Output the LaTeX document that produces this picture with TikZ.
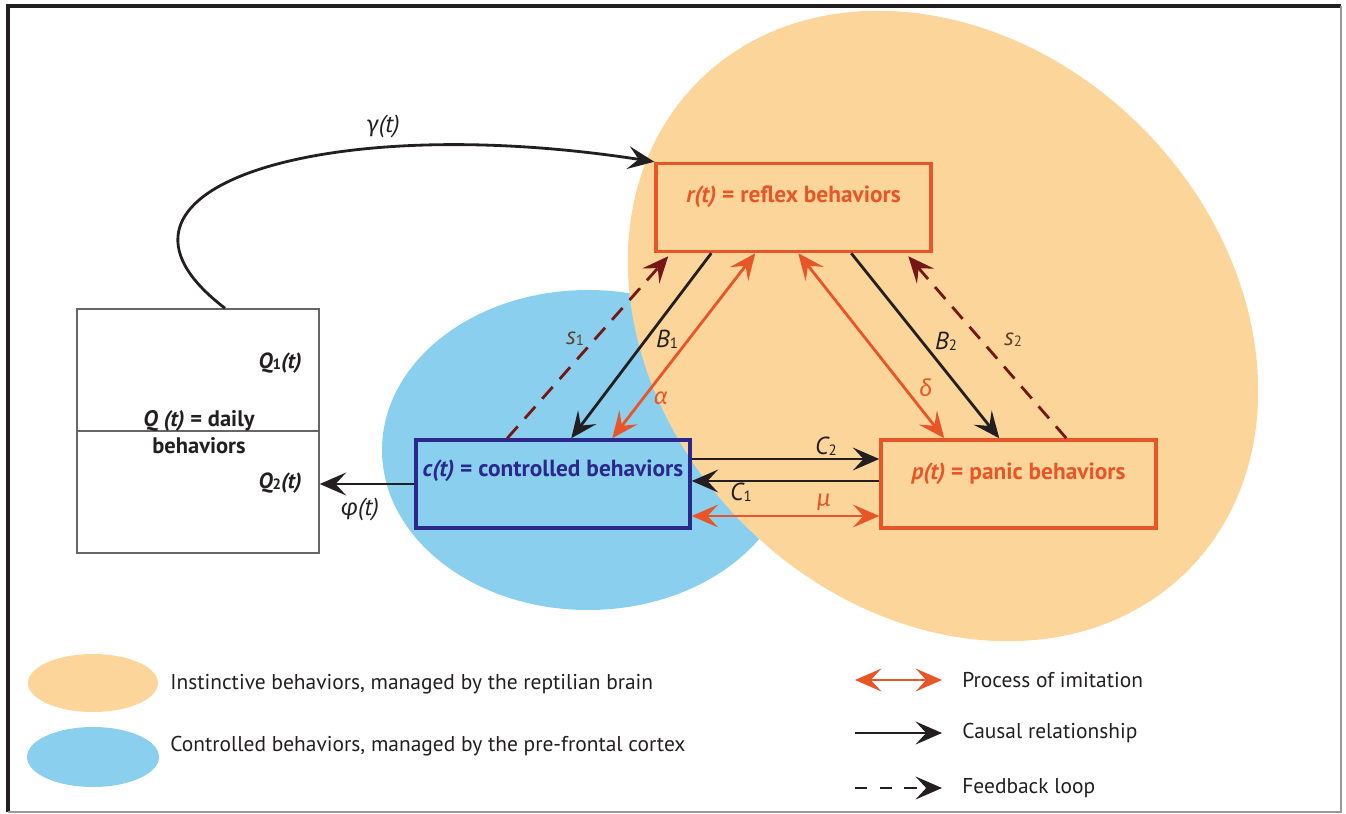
\documentclass[tikz,border=0pt]{standalone}
\usepackage{fontspec}
\setmainfont{PT Sans}
\newfontfamily\greekfont{Lato}
\usetikzlibrary{arrows.meta,calc}

\definecolor{peach}{RGB}{252,213,155}
\definecolor{skyblue}{RGB}{138,207,238}
\definecolor{tangerine}{RGB}{232,86,40}
\definecolor{maroon}{RGB}{118,22,22}
\definecolor{navyblue}{RGB}{42,40,140}
\definecolor{inkgrey}{RGB}{35,31,32}
\definecolor{umber}{RGB}{92,66,40}

\newcommand{\ix}[1]{{\upshape\fontsize{8.5}{9}\selectfont\raisebox{-0.1ex}{#1}}}
\newcommand{\gk}[1]{{\greekfont\itshape #1}}

\tikzset{
  tip/.style={-{Stealth[length=15pt,width=13pt,inset=6pt]}},
  causal/.style={line width=1.6pt, inkgrey, tip},
  imitation/.style={line width=1.6pt, tangerine,
                    {Stealth[length=15pt,width=13pt,inset=6pt]}-{Stealth[length=15pt,width=13pt,inset=6pt]}},
  feedback/.style={line width=1.6pt, maroon, dash pattern=on 9pt off 6pt, tip},
  behbox/.style={draw, line width=2pt, minimum width=5.5cm, minimum height=1.76cm, inner sep=0pt},
  behtext/.style={font=\fontsize{13.3}{15}\selectfont\bfseries},
  arrlabel/.style={font=\fontsize{14}{16}\selectfont\itshape, inkgrey, inner sep=1pt},
  legtext/.style={font=\fontsize{12.2}{14}\selectfont, inkgrey, anchor=west, inner sep=0pt}
}

\begin{document}
\begin{tikzpicture}[x=0.02cm,y=-0.02cm]
    \useasboundingbox (0,0) rectangle (1346,814);

    % frame
    \draw[line width=2.4pt, inkgrey] (8,812) -- (8,6) -- (1341,6);
    \draw[line width=1.2pt, black!40] (1341,6) -- (1341,812) -- (8,812);

    % brain areas
    \fill[skyblue] (588,450) ellipse [x radius=206, y radius=160];
    \fill[peach, rotate around={-45:(943,326)}] (943,326) ellipse [x radius=346, y radius=281];

    % behaviour boxes
    \node[behbox, draw=black!60, line width=0.9pt, minimum width=4.84cm, minimum height=4.88cm, fill=white] (qbox) at (198,431) {};
    \draw[black!60, line width=0.9pt] (qbox.west) -- (qbox.east);
    \node[behbox, draw=tangerine] (rbox) at (793.5,207.5) {};
    \node[behbox, draw=navyblue, minimum width=5.48cm] (cbox) at (553,484) {};
    \node[behbox, draw=tangerine] (pbox) at (1018.5,484) {};

    \node[behtext, tangerine] (rtext) at ($(rbox.center)+(0,-11)$) {\textit{r(t)} = reflex behaviors};
    \node[behtext, navyblue] (ctext) at ($(cbox.center)+(0,-13)$) {\textit{c(t)} = controlled behaviors};
    \node[behtext, tangerine] (ptext) at ($(pbox.center)+(0,-10)$) {\textit{p(t)} = panic behaviors};

    \node[behtext, inkgrey, anchor=east, font=\fontsize{12.5}{14}\selectfont\bfseries] (qone) at (308,363) {\textit{Q\ix{1}(t)}};
    \node[behtext, inkgrey, anchor=east, font=\fontsize{12.5}{14}\selectfont\bfseries] (qtwo) at (308,483) {\textit{Q\ix{2}(t)}};
    \node[behtext, inkgrey, align=center, inner sep=0pt, font=\fontsize{12.8}{14}\selectfont\bfseries] (qtext) at (199,432) {\textit{Q (t)} = daily\\[1pt]behaviors};

    % daily behaviours to reflexes
    \draw[line width=1.6pt, inkgrey, tip] ($(qbox.north)+(27,0)$) .. controls (70,190) and (320,110) .. (rbox.north west);
    \node[arrlabel] (gamma) at (383,126) {\gk{γ}(t)};

    \draw[causal] (cbox.west) -- (cbox.west -| qbox.east);
    \node[arrlabel] (phi) at (360,509) {\gk{φ}(t)};

    % between reflex and controlled
    \draw[causal] ($(rbox.south west)+(57,0)$) -- ($(cbox.north west)+(157,0)$);
    \draw[imitation] ($(rbox.south west)+(101,0)$) -- ($(cbox.north west)+(198,0)$);
    \draw[feedback] ($(cbox.north west)+(93,0)$) -- ($(rbox.south west)+(14,3)$);

    \node[arrlabel] (bone) at (667,339) {B\ix{1}};
    \node[arrlabel, tangerine] (alpha) at (661,398) {\gk{α}};
    \node[arrlabel, umber] (sone) at (575,339) {s\ix{1}};

    % between reflex and panic
    \draw[imitation] ($(rbox.south west)+(144,0)$) -- ($(pbox.north west)+(65,0)$);
    \draw[causal] ($(rbox.south west)+(197,0)$) -- ($(pbox.north west)+(120,0)$);
    \draw[feedback] ($(pbox.north west)+(187,0)$) -- ($(rbox.south west)+(254,3)$);

    \node[arrlabel, tangerine] (delta) at (926,388) {\gk{δ}};
    \node[arrlabel] (btwo) at (946,341) {B\ix{2}};
    \node[arrlabel, umber] (stwo) at (1013,340) {s\ix{2}};

    % between controlled and panic
    \draw[causal] ($(cbox.east)+(0,-25)$) -- ($(pbox.west)+(0,-25)$);
    \draw[causal] ($(pbox.west)+(0,-3)$) -- ($(cbox.east)+(0,-3)$);
    \draw[imitation] ($(cbox.east)+(0,32)$) -- ($(pbox.west)+(0,32)$);

    \node[arrlabel] (ctwo) at (826,446) {C\ix{2}};
    \node[arrlabel] (cone) at (741,492) {C\ix{1}};
    \node[arrlabel, tangerine] (mu) at (824,502) {\gk{μ}};

    % legend
    \fill[peach] (93,683) ellipse [x radius=65, y radius=29];
    \fill[skyblue] (93,757) ellipse [x radius=66, y radius=30];
    \node[legtext] (instinct) at (170,684) {Instinctive behaviors, managed by the reptilian brain};
    \node[legtext] (control) at (170,746) {Controlled behaviors, managed by the pre-frontal cortex};

    \coordinate (la) at (855,680);
    \coordinate (lb) at (942,680);
    \coordinate (lc) at (855,733);
    \coordinate (ld) at (942,733);
    \coordinate (le) at (855,788);
    \coordinate (lf) at (942,788);

    \draw[imitation] (la) -- (lb);
    \draw[causal] (lc) -- (ld);
    \draw[feedback, inkgrey, dash pattern=on 7pt off 7pt] (le) -- (lf);

    \node[legtext] (imit) at (962,680) {Process of imitation};
    \node[legtext] (caus) at (962,733) {Causal relationship};
    \node[legtext] (feed) at (962,788) {Feedback loop};
  \end{tikzpicture}
\end{document}
